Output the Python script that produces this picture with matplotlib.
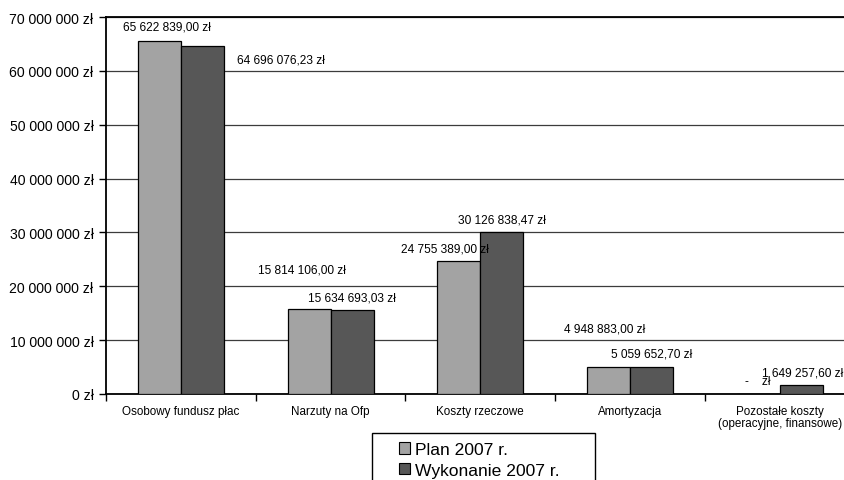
import matplotlib
matplotlib.use("Agg")
import matplotlib.pyplot as plt
from matplotlib.patches import Patch, Rectangle
from matplotlib.ticker import FuncFormatter, FixedLocator

plt.rcParams['font.family'] = ['Liberation Sans', 'DejaVu Sans']

categories = ["Osobowy fundusz płac", "Narzuty na Ofp", "Koszty rzeczowe",
              "Amortyzacja", "Pozostałe koszty\n(operacyjne, finansowe)"]
plan = [65622839.00, 15814106.00, 24755389.00, 4948883.00, 0.0]
wykonanie = [64696076.23, 15634693.03, 30126838.47, 5059652.70, 1649257.60]
series_names = ["Plan 2007 r.", "Wykonanie 2007 r."]
y_ticks = [0, 10_000_000, 20_000_000, 30_000_000, 40_000_000, 50_000_000,
           60_000_000, 70_000_000]

# label offsets (pixels) from the top-centre of each bar
plan_offsets = [(8, 14), (-7, 39), (-14, 12), (-4, 39), (0, 13)]
wyk_offsets = [(79, -14), (0, 12), (0, 12), (0, 13), (1, 13)]

col_plan = "#a3a3a3"
col_wyk = "#575757"


def pln(v, decimals=2):
    if v == 0:
        return "-    zł"
    whole = int(round(v * 100)) // 100
    frac = int(round(v * 100)) % 100
    s = f"{whole:,}".replace(",", " ")
    if decimals:
        s += f",{frac:02d}"
    return s + " zł"


fig = plt.figure(figsize=(8.44, 4.81), dpi=100)
ax = fig.add_axes([106 / 844, 86 / 481, 748.5 / 844, 377 / 481])

w = 0.287
xs = list(range(len(categories)))
ax.bar([x - w / 2 for x in xs], plan, width=w, color=col_plan,
       edgecolor="black", linewidth=0.9, zorder=3)
ax.bar([x + w / 2 for x in xs], wykonanie, width=w, color=col_wyk,
       edgecolor="black", linewidth=0.9, zorder=3)

for x, v, off in zip(xs, plan, plan_offsets):
    ax.annotate(pln(v), (x - w / 2, v), xytext=off, textcoords="offset pixels",
                ha="center", va="center", fontsize=8.6, zorder=4)
for x, v, off in zip(xs, wykonanie, wyk_offsets):
    ax.annotate(pln(v), (x + w / 2, v), xytext=off, textcoords="offset pixels",
                ha="center", va="center", fontsize=8.6, zorder=4)

ax.set_xlim(-0.5, len(categories) - 0.5)
ax.set_ylim(0, 70_000_000)
ax.set_yticks(y_ticks)
ax.yaxis.set_major_formatter(FuncFormatter(lambda v, p: pln(v, 0) if v else "0 zł"))
ax.yaxis.grid(True, color="#3c3c3c", linewidth=0.9, zorder=0)
ax.tick_params(axis="y", length=5, width=1, labelsize=10.1, pad=4)

ax.set_xticks(xs)
ax.set_xticklabels(categories, fontsize=8.4, linespacing=1.0)
ax.tick_params(axis="x", which="major", length=0, pad=8)
ax.xaxis.set_minor_locator(FixedLocator([x + 0.5 for x in xs[:-1]] + [-0.5]))
ax.tick_params(axis="x", which="minor", length=5, width=1, direction="out")

for side in ("left", "bottom", "top"):
    ax.spines[side].set_linewidth(1.3)
    ax.spines[side].set_color("black")
ax.spines["right"].set_visible(False)
ax.set_axisbelow(True)

handles = [Patch(facecolor=col_plan, edgecolor="black", linewidth=0.8),
           Patch(facecolor=col_wyk, edgecolor="black", linewidth=0.8)]
fig.legend(handles, series_names, loc="upper left",
           bbox_to_anchor=(399 / 844, 1 - 443 / 481), frameon=False,
           fontsize=12.6, handlelength=0.62, handleheight=0.62,
           handletextpad=0.3, labelspacing=0.33, borderpad=0, borderaxespad=0)
fig.add_artist(Rectangle((372 / 844, -0.05), (595 - 372) / 844,
                         1 - 434 / 481 + 0.05, transform=fig.transFigure,
                         fill=False, edgecolor="black", linewidth=1))

fig.savefig("out.png", dpi=100)
